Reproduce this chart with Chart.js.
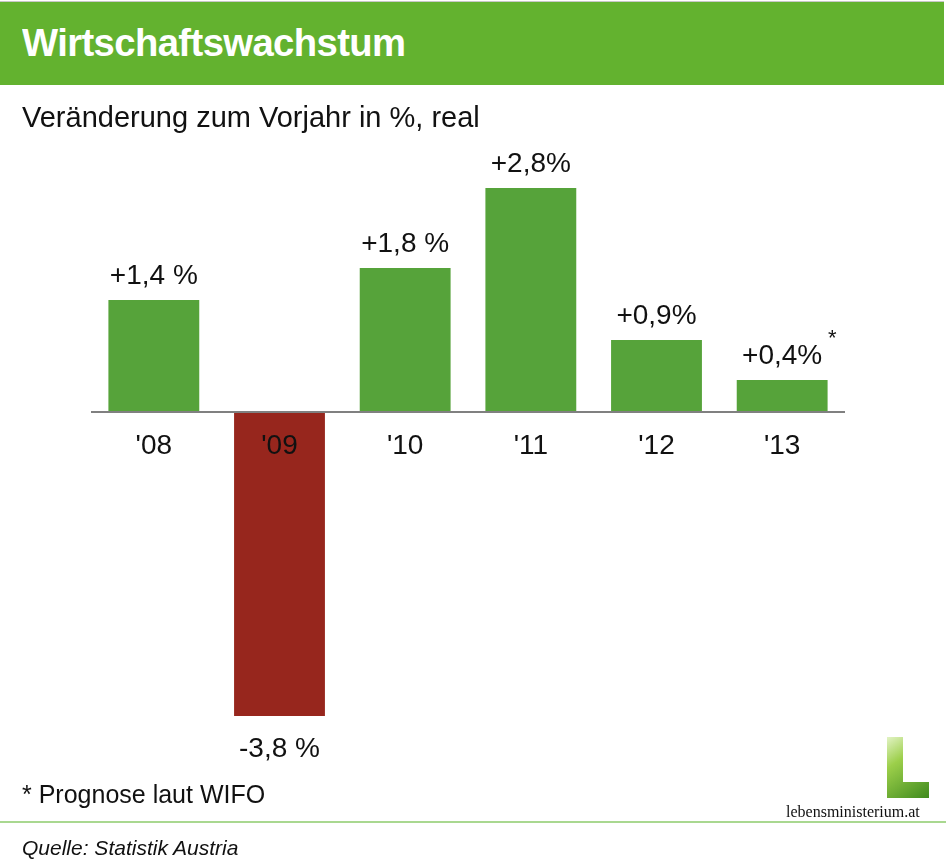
<!DOCTYPE html>
<html>
<head>
<meta charset="utf-8">
<script src="https://cdn.jsdelivr.net/npm/chart.js@4"></script>
<style>
  html, body { margin: 0; padding: 0; background: #fff; }
  #wrap { position: relative; width: 946px; height: 863px; overflow: hidden; font-family: "Liberation Sans", Arial, sans-serif; }
  #chart { position: absolute; left: 0; top: 0; }
  .header { position: absolute; left: 0; top: 1px; width: 944px; height: 83px; background: #63b22f; border-top: 1px solid #c8c8c8; }
  .title { position: absolute; left: 22px; top: 19px; color: #fff; font-weight: bold; font-size: 39px; letter-spacing: -0.6px; transform: scaleX(0.98); transform-origin: left top; }
  .subtitle { position: absolute; left: 22px; top: 101px; font-size: 29px; color: #111; }
  .note { position: absolute; left: 22px; top: 780px; font-size: 25px; color: #111; }
  .rule { position: absolute; left: 0; top: 821px; width: 946px; height: 2px; background: #a9d890; }
  .source { position: absolute; left: 22px; top: 836px; font-size: 21px; font-style: italic; color: #111; }
  .logo { position: absolute; left: 887px; top: 737px; width: 42px; height: 61px; }
  .logotext { position: absolute; left: 786px; top: 803px; font-family: "Liberation Serif", "DejaVu Serif", serif; font-size: 16px; color: #111; }
</style>
</head>
<body>
<div id="wrap">
  <canvas id="chart" width="946" height="863"></canvas>
  <div class="header"><div class="title">Wirtschaftswachstum</div></div>
  <div class="subtitle">Veränderung zum Vorjahr in %, real</div>
  <div class="note">* Prognose laut WIFO</div>
  <div class="rule"></div>
  <div class="source">Quelle: Statistik Austria</div>
  <canvas class="logo" id="logo" width="42" height="61"></canvas>
  <div class="logotext">lebensministerium.at</div>
</div>
<script>
// Daten
const years = ["'08", "'09", "'10", "'11", "'12", "'13"];
const growth = [1.4, -3.8, 1.8, 2.8, 0.9, 0.4];
const valueLabels = ['+1,4 %', '-3,8 %', '+1,8 %', '+2,8%', '+0,9%', '+0,4%'];

const GREEN = '#56a33a';
const RED = '#97261d';

// Beschriftungen, Nulllinie und Jahreszahlen
const labelPlugin = {
    id: 'labels',
    afterDatasetsDraw(chart) {
        const ctx = chart.ctx;
        const meta = chart.getDatasetMeta(0);
        const y0 = chart.scales.y.getPixelForValue(0);
        const area = chart.chartArea;

        ctx.save();
        ctx.strokeStyle = '#808080';
        ctx.lineWidth = 2;
        ctx.beginPath();
        ctx.moveTo(area.left, y0);
        ctx.lineTo(area.right, y0);
        ctx.stroke();

        ctx.fillStyle = '#111';
        ctx.font = '28px "Liberation Sans", Arial, sans-serif';
        ctx.textAlign = 'center';
        meta.data.forEach((bar, i) => {
            // Jahr unter der Nulllinie
            ctx.textBaseline = 'middle';
            ctx.fillText(years[i], bar.x, y0 + 34);
            // Wert über bzw. unter dem Balken
            if (growth[i] >= 0) {
                ctx.textBaseline = 'alphabetic';
                ctx.fillText(valueLabels[i], bar.x, bar.y - 16);
            } else {
                ctx.textBaseline = 'top';
                ctx.fillText(valueLabels[i], bar.x, bar.y + 19);
            }
        });
        // Stern bei der Prognose
        const last = meta.data[meta.data.length - 1];
        ctx.font = '22px "Liberation Sans", Arial, sans-serif';
        ctx.textBaseline = 'alphabetic';
        ctx.fillText('*', last.x + 50, last.y - 35);
        ctx.restore();
    }
};

new Chart(document.getElementById('chart'), {
    type: 'bar',
    data: {
        labels: years,
        datasets: [{
            data: growth,
            backgroundColor: growth.map(v => v < 0 ? RED : GREEN),
            borderWidth: 0,
            barPercentage: 0.723,
            categoryPercentage: 1
        }]
    },
    options: {
        responsive: false,
        animation: false,
        layout: { padding: { left: 91, right: 101, top: 188, bottom: 147 } },
        plugins: { legend: { display: false }, tooltip: { enabled: false } },
        scales: {
            x: { display: false },
            y: { display: false, min: -3.8, max: 2.8 }
        }
    },
    plugins: [labelPlugin]
});

// Logo "L" mit Grünverlauf
const lc = document.getElementById('logo').getContext('2d');
const g = lc.createLinearGradient(0, 0, 42, 61);
g.addColorStop(0, '#e2f3c4');
g.addColorStop(0.35, '#9ccf4a');
g.addColorStop(1, '#3f8a1e');
lc.fillStyle = g;
lc.fillRect(0, 0, 16, 61);
lc.fillRect(0, 45, 42, 16);
</script>
</body>
</html>
